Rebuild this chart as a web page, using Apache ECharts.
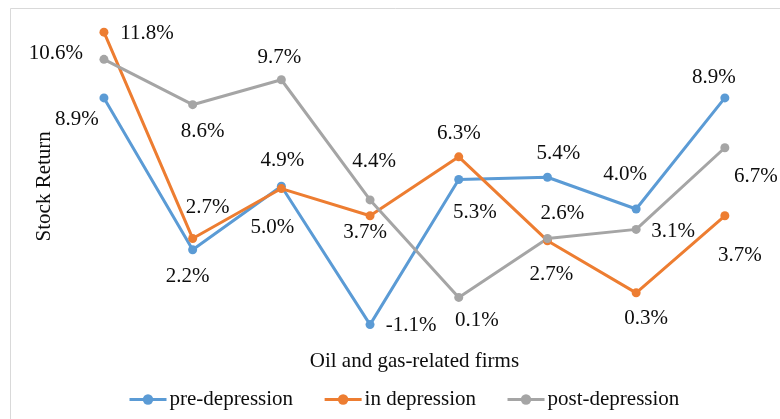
<!DOCTYPE html>
<html><head><meta charset="utf-8">
<script src="https://cdn.jsdelivr.net/npm/echarts@6/dist/echarts.min.js"></script>
<style>html,body{margin:0;padding:0;background:#fff}#c{width:780px;height:419px}</style>
</head><body><div id="c"></div>
<script>
// ---- data ----
const categories = ['Firm 1', 'Firm 2', 'Firm 3', 'Firm 4', 'Firm 5', 'Firm 6', 'Firm 7', 'Firm 8'];
const seriesNames = ['pre-depression', 'in depression', 'post-depression'];
const preDepression = [8.9, 2.2, 5.0, -1.1, 5.3, 5.4, 4.0, 8.9];
const inDepression = [11.8, 2.7, 4.9, 3.7, 6.3, 2.6, 0.3, 3.7];
const postDepression = [10.6, 8.6, 9.7, 4.4, 0.1, 2.7, 3.1, 6.7];

// ---- label placement (style only) ----
const preOffsets = [[-27, 22], [-5, 27], [-9, 41], [41, 1], [16, 33], [11, -24], [-11, -34], [-11, -20]];
const inOffsets = [[43, 1], [15, -31], [1, -28], [-5, 17], [0, -23], [15, -27], [10, 26], [15, 40]];
const postOffsets = [[-48, -6], [10, 27], [-2, -22], [4, -38], [18, 23], [4, 36], [37, 2], [31, 29]];

const colors = ['#5B9BD5', '#ED7D31', '#A5A5A5'];
const FONT = '"Liberation Serif", "Times New Roman", serif';

function buildData(values, offsets) {
  return values.map((v, i) => ({ value: v, label: { offset: offsets[i] } }));
}
function makeSeries(name, values, offsets, color) {
  return {
    name: name,
    type: 'line',
    data: buildData(values, offsets),
    symbol: 'circle',
    symbolSize: 9,
    lineStyle: { width: 3, color: color },
    itemStyle: { color: color },
    label: {
      show: true,
      position: 'inside',
      formatter: p => p.value.toFixed(1) + '%',
      fontFamily: FONT,
      fontSize: 21,
      color: '#0d0d0d'
    },
    emphasis: { disabled: true },
    animation: false
  };
}

const chart = echarts.init(document.getElementById('c'), null, { renderer: 'canvas' });
chart.setOption({
  backgroundColor: '#fff',
  color: colors,
  textStyle: { fontFamily: FONT },
  graphic: [{
    type: 'rect', silent: true,
    shape: { x: 10.5, y: 8.5, width: 800, height: 500 },
    style: { fill: 'none', stroke: '#d9d9d9', lineWidth: 1 }
  }],
  grid: { left: 59.6, right: 10.8, top: 27.6, bottom: 74, containLabel: false },
  xAxis: {
    type: 'category',
    data: categories,
    boundaryGap: true,
    axisLine: { show: false },
    axisTick: { show: false },
    axisLabel: { show: false },
    name: 'Oil and gas-related firms',
    nameLocation: 'middle',
    nameGap: 6,
    nameTextStyle: { fontFamily: FONT, fontSize: 21, color: '#0d0d0d', verticalAlign: 'top' }
  },
  yAxis: {
    type: 'value',
    min: -2, max: 12, interval: 2,
    axisLine: { show: false },
    axisTick: { show: false },
    axisLabel: { show: false },
    splitLine: { show: false },
    name: 'Stock Return',
    nameLocation: 'middle',
    nameGap: 5,
    nameTextStyle: { fontFamily: FONT, fontSize: 21, color: '#0d0d0d' }
  },
  legend: {
    data: seriesNames,
    left: 123,
    top: 384,
    itemWidth: 37,
    itemHeight: 13,
    itemGap: 30,
    padding: 5,
    lineStyle: { width: 3 },
    textStyle: { fontFamily: FONT, fontSize: 21, color: '#0d0d0d', padding: [0, 0, 0, -2] }
  },
  series: [
    makeSeries(seriesNames[0], preDepression, preOffsets, colors[0]),
    makeSeries(seriesNames[1], inDepression, inOffsets, colors[1]),
    makeSeries(seriesNames[2], postDepression, postOffsets, colors[2])
  ]
});
</script>
</body></html>
